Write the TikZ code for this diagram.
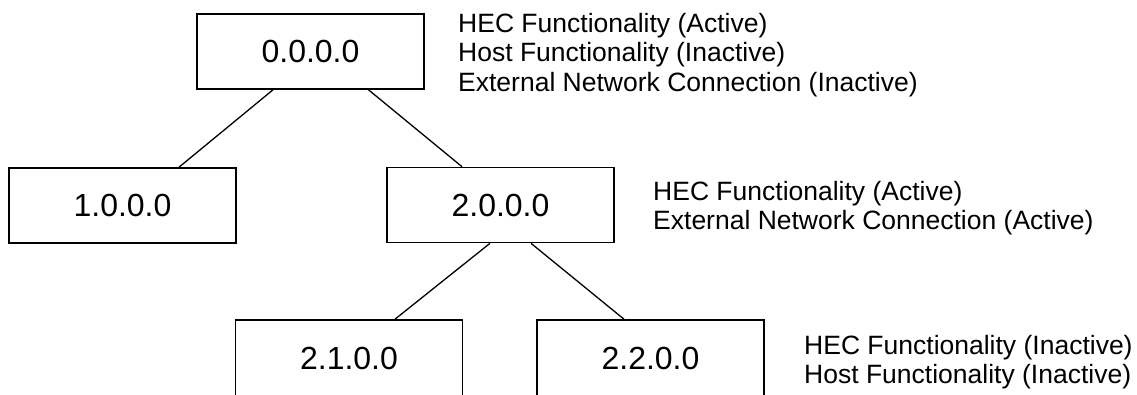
\documentclass[tikz,border=0pt]{standalone}
\usepackage{fontspec}
\setmainfont{Liberation Sans}
\begin{document}
\begin{tikzpicture}[x=1pt,y=-1pt,
  addrbox/.style={draw=black,line width=1.6pt,fill=white,rectangle,minimum width=227pt,minimum height=75pt,inner sep=0pt,font=\fontsize{32}{38}\selectfont},
  sidetext/.style={anchor=west,align=left,inner sep=0pt,font=\fontsize{26.5}{29.5}\selectfont},
  link/.style={draw=black,line width=1.3pt}]
\useasboundingbox (0,0) rectangle (1137,394);
\node[addrbox] (n0) at (310.5,51.5) {0.0.0.0};
\node[addrbox] (n1) at (122.5,205.5) {1.0.0.0};
\node[addrbox] (n2) at (500.5,205) {2.0.0.0};
\node[addrbox,minimum height=77pt] (n21) at (349,358.5) {2.1.0.0};
\node[addrbox,minimum height=77pt] (n22) at (650.5,358.5) {2.2.0.0};
\draw[link] ([xshift=-37.5pt]n0.south) -- ([xshift=56.5pt]n1.north);
\draw[link] ([xshift=58pt]n0.south) -- ([xshift=-38.5pt]n2.north);
\draw[link] ([xshift=-10.5pt]n2.south) -- ([xshift=46pt]n21.north);
\draw[link] ([xshift=30.5pt]n2.south) -- ([xshift=-26.5pt]n22.north);
\node[sidetext] (t0) at (458,55) {HEC Functionality (Active)\\Host Functionality (Inactive)\\External Network Connection (Inactive)};
\node[sidetext] (t2) at (653,208) {HEC Functionality (Active)\\External Network Connection (Active)};
\node[sidetext] (t22) at (804,362) {HEC Functionality (Inactive)\\Host Functionality (Inactive)};
\end{tikzpicture}
\end{document}
